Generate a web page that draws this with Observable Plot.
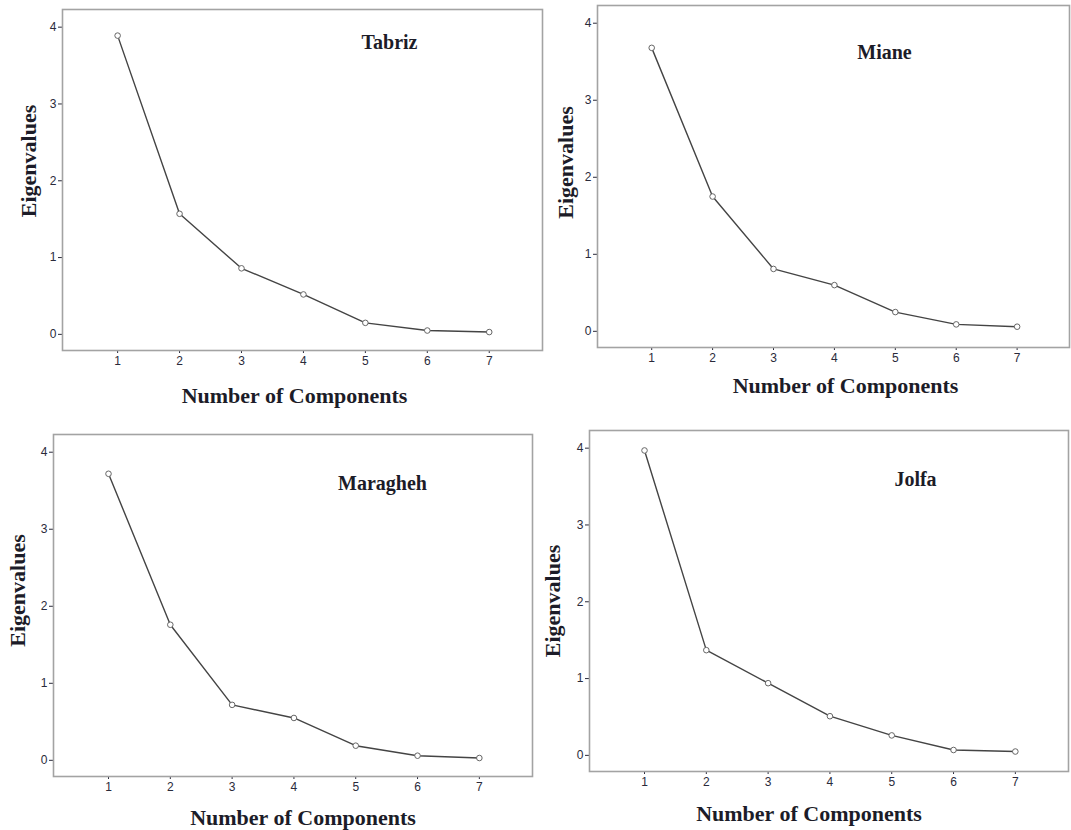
<!DOCTYPE html>
<html>
<head>
<meta charset="utf-8">
<script src="https://cdn.jsdelivr.net/npm/d3@7"></script>
<script src="https://cdn.jsdelivr.net/npm/@observablehq/plot@0.6"></script>
<style>
  html, body { margin: 0; padding: 0; background: #fff; }
  #wrap { position: relative; width: 1071px; height: 830px; overflow: hidden; background: #fff; }
  #wrap > svg { position: absolute; }
</style>
</head>
<body>
<div id="wrap"></div>
<script>
// ---- data ----
const components = [1, 2, 3, 4, 5, 6, 7];
const xTickLabels = [1, 2, 3, 4, 5, 6, 7];
const yTickLabels = [0, 1, 2, 3, 4];
const stations = ["Tabriz", "Miane", "Maragheh", "Jolfa"];
const tabriz   = [3.89, 1.57, 0.86, 0.52, 0.15, 0.05, 0.03];
const miane    = [3.68, 1.75, 0.81, 0.60, 0.25, 0.09, 0.06];
const maragheh = [3.72, 1.76, 0.72, 0.55, 0.19, 0.06, 0.03];
const jolfa    = [3.97, 1.37, 0.94, 0.51, 0.26, 0.07, 0.05];
const xTitle = "Number of Components";
const yTitle = "Eigenvalues";

const series = [tabriz, miane, maragheh, jolfa];

// ---- layout (pixels) ----
const panels = [
  {left: 0,   top: 0,   width: 548, height: 415, mL: 62, mR: 6,  mT: 9,  mB: 65, ttl: [327, 33], yl: [-34, -19], xl: [-8, 45]},
  {left: 535, top: 0,   width: 536, height: 415, mL: 62, mR: 2,  mT: 5,  mB: 68, ttl: [287, 47], yl: [-32, -14], xl: [12, 38]},
  {left: 0,   top: 415, width: 535, height: 415, mL: 53, mR: 3,  mT: 19, mB: 54, ttl: [329, 49], yl: [-36, -15], xl: [10, 41]},
  {left: 535, top: 415, width: 536, height: 415, mL: 54, mR: 3,  mT: 15, mB: 59, ttl: [326, 49], yl: [-37, 0],  xl: [-20, 42]}
];

const serif = "'Liberation Serif', 'Times New Roman', serif";
const textColor = "#1c1c28";
const wrap = document.getElementById("wrap");

stations.forEach((name, i) => {
  const p = panels[i];
  const data = components.map((c, j) => ({c, v: series[i][j]}));
  const chart = Plot.plot({
    width: p.width,
    height: p.height,
    marginLeft: p.mL,
    marginRight: p.mR,
    marginTop: p.mT,
    marginBottom: p.mB,
    style: {background: "transparent", overflow: "visible", fontFamily: "'Liberation Sans', Arial, sans-serif", fontSize: "12px", color: "#2a2a3a"},
    x: {domain: [0.11, 7.86], ticks: xTickLabels, tickFormat: d3.format("d"), tickSize: 3, tickPadding: 3, label: null},
    y: {domain: [-0.21, 4.23], ticks: yTickLabels, tickFormat: d3.format("d"), tickSize: 4, tickPadding: 2, label: null},
    marks: [
      Plot.frame({stroke: "#a3a3a3", strokeWidth: 1.6}),
      Plot.line(data, {x: "c", y: "v", stroke: "#444", strokeWidth: 1.4}),
      Plot.dot(data, {x: "c", y: "v", r: 2.8, stroke: "#666", fill: "white", strokeWidth: 1}),
      Plot.text([name], {frameAnchor: "top-left", textAnchor: "middle", lineAnchor: "middle", dx: p.ttl[0], dy: p.ttl[1],
        fontFamily: serif, fontWeight: "bold", fontSize: 20, fill: textColor}),
      Plot.text([xTitle], {frameAnchor: "bottom", textAnchor: "middle", lineAnchor: "middle", dx: p.xl[0], dy: p.xl[1],
        fontFamily: serif, fontWeight: "bold", fontSize: 22, fill: textColor}),
      Plot.text([yTitle], {frameAnchor: "left", textAnchor: "middle", lineAnchor: "middle", rotate: -90, dx: p.yl[0], dy: p.yl[1],
        fontFamily: serif, fontWeight: "bold", fontSize: 22, fill: textColor})
    ]
  });
  chart.style.left = p.left + "px";
  chart.style.top = p.top + "px";
  chart.style.maxWidth = "none";
  wrap.appendChild(chart);
});
</script>
</body>
</html>
